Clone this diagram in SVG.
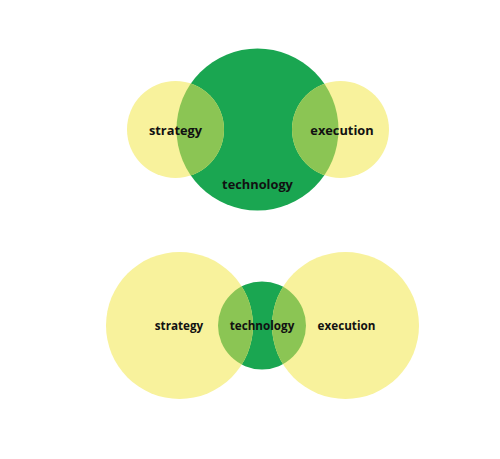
<svg xmlns="http://www.w3.org/2000/svg" width="500" height="459" viewBox="0 0 500 459">
<style>
.g{fill:#1aa651}
.y{fill:#f8f29c}
.o{fill:#8bc554}
text{font-family:"Open Sans","Liberation Sans",sans-serif;font-weight:700;fill:#111;text-anchor:middle}
.t1{font-size:12.8px}
.t2{font-size:11.7px}
</style>
<defs>
<clipPath id="cT"><circle cx="257.5" cy="129.5" r="81"/></clipPath>
<clipPath id="cB"><circle cx="262" cy="325.5" r="44"/></clipPath>
</defs>
<rect width="500" height="459" fill="#fff"/>
<g id="top">
<g id="top-technology"><circle class="g" cx="257.5" cy="129.5" r="81"/></g>
<g id="top-strategy"><circle class="y" cx="175.5" cy="129.5" r="48.5"/></g>
<g id="top-execution"><circle class="y" cx="340.5" cy="129.5" r="48.5"/></g>
<g id="top-overlaps" clip-path="url(#cT)">
<circle class="o" cx="175.5" cy="129.5" r="48.5"/>
<circle class="o" cx="340.5" cy="129.5" r="48.5"/>
</g>
<text class="t1" x="175.5" y="134.5">strategy</text>
<text class="t1" x="342" y="134.5">execution</text>
<text class="t1" x="257.5" y="188.5">technology</text>
</g>
<g id="bottom">
<g id="bottom-technology"><circle class="g" cx="262" cy="325.5" r="44"/></g>
<g id="bottom-strategy"><circle class="y" cx="179.5" cy="325.5" r="73.5"/></g>
<g id="bottom-execution"><circle class="y" cx="345.5" cy="325.5" r="73.5"/></g>
<g id="bottom-overlaps" clip-path="url(#cB)">
<circle class="o" cx="179.5" cy="325.5" r="73.5"/>
<circle class="o" cx="345.5" cy="325.5" r="73.5"/>
</g>
<text class="t2" x="179" y="330">strategy</text>
<text class="t2" x="262" y="330">technology</text>
<text class="t2" x="346.5" y="330">execution</text>
</g>
<g id="connectors"/>
</svg>
